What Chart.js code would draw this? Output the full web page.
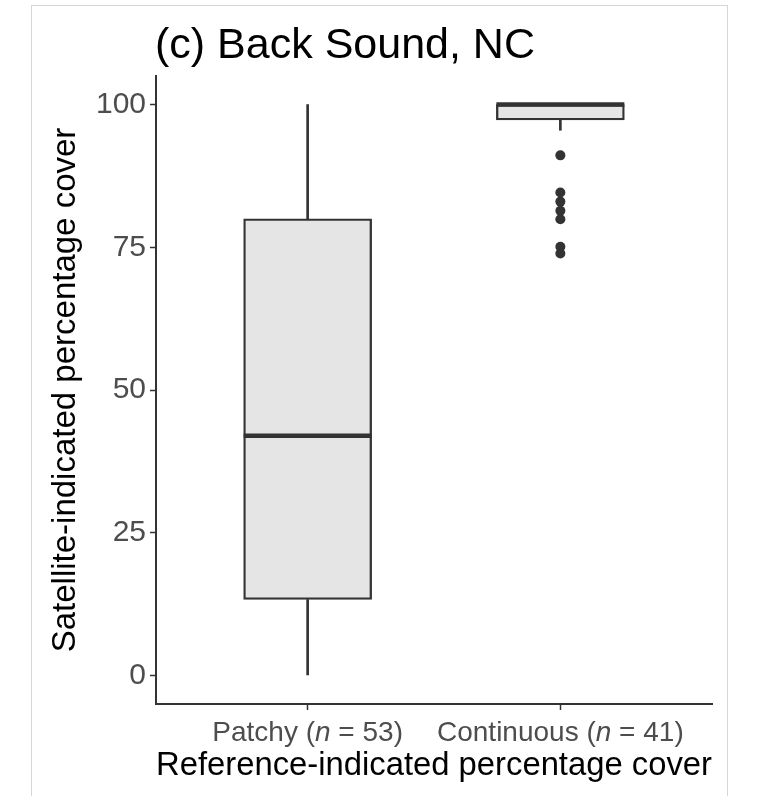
<!DOCTYPE html>
<html>
<head>
<meta charset="utf-8">
<script src="https://cdn.jsdelivr.net/npm/chart.js@4.4.0/dist/chart.umd.min.js"></script>
<style>
  html, body { margin: 0; padding: 0; background: #fff; }
  #frame { position: absolute; left: 31px; top: 5px; width: 695px; height: 800px; border: 1px solid #d6d6d6; border-bottom: none; }
  #chart { position: absolute; left: 0; top: 0; }
</style>
</head>
<body>
<div id="frame"></div>
<canvas id="chart" width="758" height="796"></canvas>
<script>
// box summary
const groups = ['Patchy', 'Continuous'];
const groupN = [53, 41];
const groupPos = [1, 2];
const whiskerLow = [0, 95.5];
const q1 = [13.3, 97.3];
const medians = [42.0, 100];
const q3 = [80.0, 100];
const whiskerHigh = [100, 100];
const outliers = [91.1, 84.6, 83.0, 81.4, 79.9, 75.1, 73.9]; // Continuous group
const yTicks = [0, 25, 50, 75, 100];

const dark = '#333333';
const family = '"Liberation Sans", Arial, Helvetica, sans-serif';

const boxExtras = {
    id: 'boxExtras',
    afterDatasetsDraw(chart) {
        const ctx = chart.ctx;
        const y = chart.scales.y;
        const boxes = chart.getDatasetMeta(0).data;
        ctx.save();
        ctx.strokeStyle = dark;
        ctx.lineWidth = 4.5;
        boxes.forEach((bar, i) => {
            const py = y.getPixelForValue(medians[i]);
            ctx.beginPath();
            ctx.moveTo(bar.x - bar.width / 2, py);
            ctx.lineTo(bar.x + bar.width / 2, py);
            ctx.stroke();
        });
        ctx.restore();
    },
    afterDraw(chart) {
        const ctx = chart.ctx;
        const x = chart.scales.x;
        ctx.save();
        ctx.textBaseline = 'alphabetic';
        ctx.fillStyle = '#000';
        ctx.font = '43px ' + family;
        ctx.fillText('(c) Back Sound, NC', chart.chartArea.left - 1, 58);

        // x tick labels, with italic n
        ctx.fillStyle = '#4d4d4d';
        const regular = '28px ' + family;
        const italic = 'italic ' + regular;
        groups.forEach((g, i) => {
            const parts = [[g + ' (', regular], ['n', italic], [' = ' + groupN[i] + ')', regular]];
            let w = 0;
            parts.forEach(p => { ctx.font = p[1]; w += ctx.measureText(p[0]).width; });
            let px = x.getPixelForValue(groupPos[i]) - w / 2;
            parts.forEach(p => {
                ctx.font = p[1];
                ctx.fillText(p[0], px, 741);
                px += ctx.measureText(p[0]).width;
            });
        });
        ctx.restore();
    }
};

const axisGrid = { drawOnChartArea: false, offset: false, tickLength: 6, tickColor: dark, tickWidth: 1.5 };
const axisBorder = { color: dark, width: 2 };

new Chart(document.getElementById('chart'), {
    type: 'bar',
    data: {
        datasets: [
            {
                label: 'box',
                data: groupPos.map((x, i) => ({ x: x, y: [q1[i], q3[i]] })),
                backgroundColor: '#e5e5e5',
                borderColor: dark,
                borderWidth: 2.3,
                borderSkipped: false,
                barThickness: 128,
                stack: 'box'
            },
            {
                label: 'lower whisker',
                data: groupPos.map((x, i) => ({ x: x, y: [whiskerLow[i], q1[i]] })),
                backgroundColor: dark,
                borderWidth: 0,
                barThickness: 2,
                stack: 'box'
            },
            {
                label: 'upper whisker',
                data: groupPos.map((x, i) => ({ x: x, y: [q3[i], whiskerHigh[i]] })),
                backgroundColor: dark,
                borderWidth: 0,
                barThickness: 2,
                stack: 'box'
            },
            {
                type: 'scatter',
                label: 'outliers',
                data: outliers.map(v => ({ x: groupPos[1], y: v })),
                backgroundColor: dark,
                borderWidth: 0,
                pointRadius: 5
            }
        ]
    },
    options: {
        responsive: false,
        animation: false,
        layout: { padding: { left: 30, right: 46, top: 76, bottom: 0 } },
        plugins: {
            legend: { display: false },
            tooltip: { enabled: false }
        },
        scales: {
            x: {
                type: 'linear',
                min: 0.4,
                max: 2.6,
                offset: false,
                afterBuildTicks: s => { s.ticks = groupPos.map(v => ({ value: v })); },
                afterFit: s => { s.height = 92; },
                ticks: { callback: () => '', padding: 0 },
                grid: axisGrid,
                border: axisBorder,
                title: {
                    display: true,
                    text: 'Reference-indicated percentage cover',
                    color: '#000',
                    font: { size: 33, family: family },
                    padding: { top: 0, bottom: 10 }
                }
            },
            y: {
                min: -5,
                max: 105,
                stacked: false,
                afterBuildTicks: s => { s.ticks = yTicks.map(v => ({ value: v })); },
                afterFit: s => { s.width = 126; },
                ticks: { color: '#4d4d4d', font: { size: 30, family: family }, padding: 4 },
                grid: axisGrid,
                border: axisBorder,
                title: {
                    display: true,
                    text: 'Satellite-indicated percentage cover',
                    color: '#000',
                    font: { size: 33, family: family },
                    padding: { top: 16 }
                }
            }
        }
    },
    plugins: [boxExtras]
});
</script>
</body>
</html>
